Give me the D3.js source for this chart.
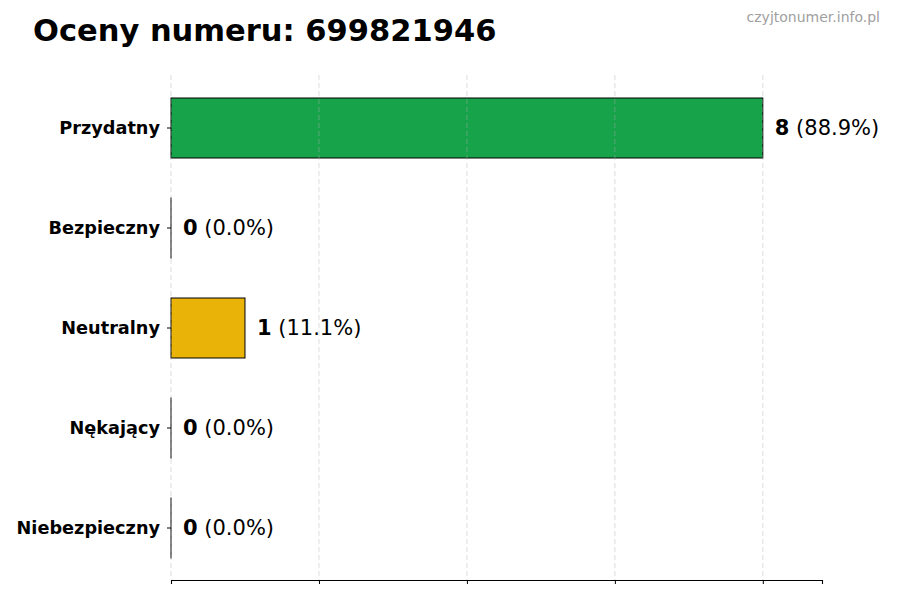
<!DOCTYPE html>
<html><head><meta charset="utf-8">
<script src="https://cdn.jsdelivr.net/npm/d3@7"></script>
<style>body{margin:0;background:#fff;} svg{display:block;font-family:"DejaVu Sans",sans-serif;}</style>
</head><body>
<svg id="c" width="900" height="600"></svg>
<script>
const categories = ["Przydatny","Bezpieczny","Neutralny","Nękający","Niebezpieczny"];
const counts = [8,0,1,0,0];
const percents = ["88.9%","0.0%","11.1%","0.0%","0.0%"];
const colors = ["#16a34a","#22c55e","#eab308","#f97316","#dc2626"];
const xTicks = [0,2,4,6,8];
const titleText = "Oceny numeru: 699821946";
const watermark = "czyjtonumer.info.pl";

const svg = d3.select("#c");
const x = d3.scaleLinear().domain([0, 8.8]).range([171, 822]);
const y = d3.scaleBand().domain(categories).range([78, 578]).paddingInner(0.4).paddingOuter(0.2);

// bars
svg.append("g").selectAll("rect").data(categories).join("rect")
  .attr("x", x(0))
  .attr("y", d => y(d))
  .attr("width", (d,i) => Math.max(x(counts[i]) - x(0), 0.01))
  .attr("height", y.bandwidth())
  .attr("fill", (d,i) => colors[i])
  .attr("stroke", "#000").attr("stroke-width", 1);

// grid
svg.append("g").selectAll("line").data(xTicks).join("line")
  .attr("x1", d => x(d)).attr("x2", d => x(d))
  .attr("y1", 75).attr("y2", 580)
  .attr("stroke", "#b0b0b0").attr("stroke-opacity", 0.55)
  .attr("stroke-dasharray", "5,3").attr("stroke-width", 0.8);

// x axis
const xa = svg.append("g").attr("transform", "translate(0,580)")
  .call(d3.axisBottom(x).tickValues(xTicks).tickFormat("").tickSizeOuter(0).tickSize(4));
xa.select(".domain").attr("stroke", "#000").attr("stroke-width", 1.1);
xa.selectAll(".tick line").attr("stroke", "#000");

// y axis
const ya = svg.append("g").attr("transform", `translate(${x(0)},0)`)
  .call(d3.axisLeft(y).tickSize(4).tickPadding(7));
ya.select(".domain").remove();
ya.selectAll(".tick line").attr("stroke", "#000");
ya.selectAll(".tick text").attr("font-size", 17.7).attr("font-weight", "bold")
  .attr("fill", "#000").attr("font-family", "DejaVu Sans");

// value labels
const lab = svg.append("g").selectAll("text").data(categories).join("text")
  .attr("x", (d,i) => x(counts[i]) + 12)
  .attr("y", d => y(d) + y.bandwidth()/2)
  .attr("dy", "0.33em")
  .attr("font-size", 21).attr("fill", "#000");
lab.append("tspan").attr("font-weight", "bold").text((d,i) => counts[i]);
lab.append("tspan").text((d,i) => " (" + percents[i] + ")");

// title
svg.append("text").attr("x", 33).attr("y", 41)
  .attr("font-size", 30.5).attr("font-weight", "bold").attr("fill", "#000").text(titleText);
svg.append("text").attr("x", 880).attr("y", 22).attr("text-anchor", "end")
  .attr("font-size", 14).attr("fill", "#a0a0a0").text(watermark);
</script>
</body></html>
